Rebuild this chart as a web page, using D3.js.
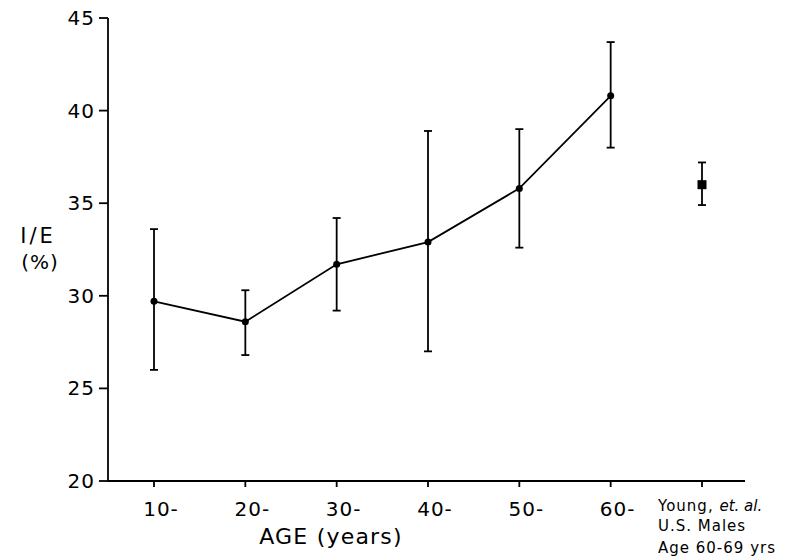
<!DOCTYPE html>
<html>
<head>
<meta charset="utf-8">
<script src="https://cdn.jsdelivr.net/npm/d3@7"></script>
<style>
    body { margin: 0; background: #fff; }
    text { font-family: 'DejaVu Sans', sans-serif; fill: #000; }
</style>
</head>
<body>
<div class="chart"></div>
<script>
// Values
const ageGroups = ['10-', '20-', '30-', '40-', '50-', '60-'];
const ieMean = [29.7, 28.6, 31.7, 32.9, 35.8, 40.8];
const ieHigh = [33.6, 30.3, 34.2, 38.9, 39.0, 43.7];
const ieLow = [26.0, 26.8, 29.2, 27.0, 32.6, 38.0];

const refLabel = 'Young';
const refMean = 36.0;
const refHigh = 37.2;
const refLow = 34.9;

const yTicks = [20, 25, 30, 35, 40, 45];

const width = 790;
const height = 559;

const svg = d3.select('.chart')
    .append('svg')
    .attr('width', width)
    .attr('height', height);

const x = d3.scalePoint()
    .domain(ageGroups.concat([refLabel]))
    .range([154, 702]);

const y = d3.scaleLinear()
    .domain([20, 45])
    .range([481, 18]);

const axisLeft = 108;
const axisRight = 745;
const stroke = 1.8;

// axes
svg.append('line')
    .attr('x1', axisLeft).attr('x2', axisLeft)
    .attr('y1', y(45)).attr('y2', y(20))
    .attr('stroke', '#000').attr('stroke-width', stroke);

svg.append('line')
    .attr('x1', axisLeft).attr('x2', axisRight)
    .attr('y1', y(20)).attr('y2', y(20))
    .attr('stroke', '#000').attr('stroke-width', stroke);

svg.append('g')
    .selectAll('line')
    .data(yTicks)
    .enter()
    .append('line')
    .attr('x1', axisLeft - 9).attr('x2', axisLeft)
    .attr('y1', d => y(d)).attr('y2', d => y(d))
    .attr('stroke', '#000').attr('stroke-width', stroke);

svg.append('g')
    .selectAll('text')
    .data(yTicks)
    .enter()
    .append('text')
    .attr('x', axisLeft - 13)
    .attr('y', d => y(d) + 7)
    .attr('text-anchor', 'end')
    .style('font-size', '20px')
    .style('letter-spacing', '1px')
    .text(d => d);

svg.append('g')
    .selectAll('line')
    .data(x.domain())
    .enter()
    .append('line')
    .attr('x1', d => x(d)).attr('x2', d => x(d))
    .attr('y1', y(20)).attr('y2', y(20) + 6)
    .attr('stroke', '#000').attr('stroke-width', stroke);

svg.append('g')
    .selectAll('text')
    .data(ageGroups)
    .enter()
    .append('text')
    .attr('x', d => x(d) + 7)
    .attr('y', 516)
    .attr('text-anchor', 'middle')
    .style('font-size', '20px')
    .style('letter-spacing', '1px')
    .text(d => d);

svg.append('text')
    .attr('x', 331)
    .attr('y', 544)
    .attr('text-anchor', 'middle')
    .style('font-size', '22px')
    .style('letter-spacing', '1.2px')
    .text('AGE (years)');

svg.append('text')
    .attr('x', 38)
    .attr('y', 243)
    .attr('text-anchor', 'middle')
    .style('font-size', '21px')
    .style('letter-spacing', '3px')
    .text('I/E');

svg.append('text')
    .attr('x', 40)
    .attr('y', 269)
    .attr('text-anchor', 'middle')
    .style('font-size', '20px')
    .style('letter-spacing', '1px')
    .text('(%)');

const note = svg.append('g')
    .style('font-size', '15px')
    .style('letter-spacing', '1px');
const noteFirst = note.append('text').attr('x', 658).attr('y', 511);
noteFirst.append('tspan').text('Young, ');
noteFirst.append('tspan').style('font-style', 'italic').style('letter-spacing', '0px').text('et. al.');
note.append('text').attr('x', 658).attr('y', 531).text('U.S. Males');
note.append('text').attr('x', 658).attr('y', 553).text('Age 60-69 yrs');

// error bars
const bars = ageGroups.map((g, i) => ({ g, lo: ieLow[i], hi: ieHigh[i] }));
bars.push({ g: refLabel, lo: refLow, hi: refHigh });

const bar = svg.append('g')
    .attr('stroke', '#000')
    .attr('stroke-width', stroke)
    .selectAll('g')
    .data(bars)
    .enter()
    .append('g');

bar.append('line')
    .attr('x1', d => x(d.g)).attr('x2', d => x(d.g))
    .attr('y1', d => y(d.hi)).attr('y2', d => y(d.lo));

bar.append('line')
    .attr('x1', d => x(d.g) - 4).attr('x2', d => x(d.g) + 4)
    .attr('y1', d => y(d.hi)).attr('y2', d => y(d.hi));

bar.append('line')
    .attr('x1', d => x(d.g) - 4).attr('x2', d => x(d.g) + 4)
    .attr('y1', d => y(d.lo)).attr('y2', d => y(d.lo));

// mean line
const points = ageGroups.map((g, i) => ({ g, v: ieMean[i] }));

svg.append('path')
    .datum(points)
    .attr('fill', 'none')
    .attr('stroke', '#000')
    .attr('stroke-width', stroke)
    .attr('d', d3.line().x(d => x(d.g)).y(d => y(d.v)));

svg.append('g')
    .selectAll('circle')
    .data(points)
    .enter()
    .append('circle')
    .attr('cx', d => x(d.g))
    .attr('cy', d => y(d.v))
    .attr('r', 3.5)
    .attr('fill', '#000');

svg.append('rect')
    .attr('x', x(refLabel) - 4.5)
    .attr('y', y(refMean) - 4.5)
    .attr('width', 9)
    .attr('height', 9)
    .attr('fill', '#000');
</script>
</body>
</html>
